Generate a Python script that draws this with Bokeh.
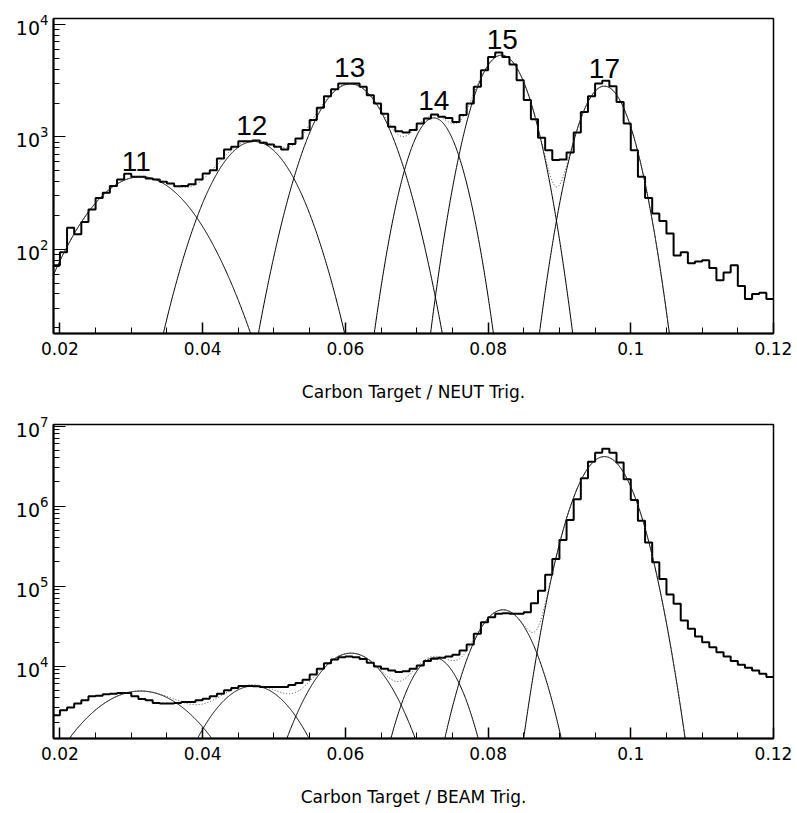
import numpy as np
from bokeh.plotting import figure
from bokeh.layouts import column
from bokeh.models import Range1d, FixedTicker
from bokeh.embed import file_html
from bokeh.resources import INLINE
from bokeh.core.properties import value

# ---------------- data ----------------
bin_start = 0.019
bin_width = 0.001

# NEUT trigger histogram, bins of 0.001 starting at 0.019
neut_counts = [72, 94, 155, 136, 175, 226, 286, 318, 366, 418,
               469, 441, 441, 427, 418, 398, 385, 364, 366, 378,
               418, 472, 505, 643, 773, 815, 916, 916, 929, 885,
               855, 815, 773, 865, 968, 1148, 1409, 1811, 2300, 2656,
               2985, 2985, 2985, 2786, 2350, 1982, 1603, 1228, 1124, 1093,
               1148, 1315, 1459, 1582, 1507, 1475, 1358, 1561, 1982, 2786,
               3917, 5148, 5640, 5148, 4406, 3193, 2124, 1436, 980, 762,
               621, 630, 727, 1093, 1667, 2300, 2985, 3150, 2825, 2046,
               1315, 762, 441, 286, 208, 178, 138, 88, 94, 75,
               78, 80, 68, 53, 62, 72, 47, 36, 40, 41, 36]

# BEAM trigger histogram, same binning
beam_counts = [2427, 2805, 3030, 3400, 3736, 4191, 4274, 4440, 4525, 4616,
               4616, 4191, 3883, 3736, 3459, 3400, 3400, 3459, 3556, 3556,
               3736, 3918, 4191, 4525, 4978, 5321, 5636, 5636, 5585, 5480,
               5480, 5480, 5480, 5800, 6140, 6762, 7876, 9270, 10890, 12110,
               12940, 13200, 12940, 12250, 11020, 9910, 9270, 8830, 8410, 8600,
               9270, 10200, 11540, 12360, 12710, 13200, 13860, 15700, 18640, 25330,
               35340, 40790, 44960, 45740, 44960, 44960, 47080, 60930, 87700, 138900,
               217900, 375700, 668000, 1220000, 2230000, 3590000, 4650000, 5210000, 4650000, 3490000,
               2170000, 1190000, 655000, 351400, 197800, 122700, 78300, 59950, 37150, 29240,
               23440, 19900, 17250, 14940, 13200, 11540, 10400, 9550, 8830, 8040, 7300]

# Gaussian fit components (amplitude, mean, sigma)
neut_amp = [441, 910, 2960, 1475, 5330, 2825]
neut_mean = [0.0313, 0.0472, 0.0607, 0.0724, 0.0819, 0.0963]
neut_sigma = [0.00609, 0.00453, 0.00403, 0.00281, 0.00295, 0.00286]

beam_amp = [4875, 5640, 14500, 12700, 50500, 4150000]
beam_mean = [0.0313, 0.0471, 0.0608, 0.0725, 0.0821, 0.0963]
beam_sigma = [0.00605, 0.0045, 0.00406, 0.00284, 0.0030, 0.00281]

peak_labels = ["11", "12", "13", "14", "15", "17"]
peak_label_x = [0.0307, 0.0469, 0.0606, 0.0724, 0.0820, 0.0963]
peak_label_y = [495, 1020, 3350, 1730, 5995, 3313]

x_ticks = [0.02, 0.04, 0.06, 0.08, 0.1, 0.12]
x_tick_labels = ["0.02", "0.04", "0.06", "0.08", "0.1", "0.12"]
x_minor_ticks = [0.025, 0.03, 0.035, 0.045, 0.05, 0.055, 0.065, 0.07, 0.075,
                 0.085, 0.09, 0.095, 0.105, 0.11, 0.115]

neut_y_ticks = [100, 1000, 10000]
beam_y_ticks = [1e4, 1e5, 1e6, 1e7]

neut_xlabel = "Carbon Target / NEUT Trig."
beam_xlabel = "Carbon Target / BEAM Trig."

X_MIN, X_MAX = 0.0191, 0.12
NEUT_Y = (17.8, 11300)
BEAM_Y = (1245, 1.045e7)

FONT = "DejaVu Sans"


def log_minors(major):
    out = []
    for m in major:
        for k in range(2, 10):
            out.append(m / 10 * k)
    return out


def make_panel(counts, amps, means, sigmas, yr, yticks, xlabel, height, bborder):
    p = figure(width=797, height=height,
               x_range=Range1d(X_MIN, X_MAX), y_range=Range1d(*yr),
               y_axis_type="log", output_backend="svg", toolbar_location=None,
               min_border_left=53, min_border_right=24, min_border_top=18,
               min_border_bottom=bborder)
    p.xgrid.visible = False
    p.ygrid.visible = False
    p.outline_line_color = "black"
    p.outline_line_width = 1.5
    p.background_fill_color = "white"
    p.border_fill_color = "white"

    # x axis
    xa = p.xaxis[0]
    xa.ticker = FixedTicker(ticks=x_ticks, minor_ticks=x_minor_ticks)
    xa.major_label_overrides = {t: l for t, l in zip(x_ticks, x_tick_labels)}
    xa.major_tick_in = 11
    xa.major_tick_out = 0
    xa.minor_tick_in = 6
    xa.minor_tick_out = 0
    xa.major_tick_line_width = 1.5
    xa.axis_line_width = 2
    xa.major_label_text_font = FONT
    xa.major_label_text_font_size = "17px"
    xa.major_label_text_color = "black"
    xa.major_label_standoff = 8
    xa.axis_label = xlabel
    xa.axis_label_text_font = FONT
    xa.axis_label_text_font_size = "17px"
    xa.axis_label_text_font_style = "normal"
    xa.axis_label_text_color = "black"
    xa.axis_label_standoff = 24

    # y axis
    ya = p.yaxis[0]
    ya.ticker = FixedTicker(ticks=yticks, minor_ticks=log_minors(yticks))
    ya.major_tick_in = 12
    ya.major_tick_out = 0
    ya.minor_tick_in = 6
    ya.minor_tick_out = 0
    ya.axis_line_width = 2
    ya.major_label_text_font = FONT
    ya.major_label_text_font_size = "19px"
    ya.major_label_text_color = "black"
    ya.major_label_standoff = 5

    # histogram
    edges = [bin_start + bin_width * i for i in range(len(counts) + 1)]
    p.step(edges, list(counts) + [counts[-1]], mode="after",
           line_color="black", line_width=2)

    # gaussian components and their sum
    xg = np.linspace(X_MIN, X_MAX, 1500)
    total = np.zeros_like(xg)
    for a, m, s in zip(amps, means, sigmas):
        g = a * np.exp(-(xg - m) ** 2 / (2 * s * s))
        total += g
        mask = g > yr[0] * 0.3
        p.line(xg[mask], g[mask], line_color="black", line_width=1)
    mask = total > yr[0] * 0.3
    p.line(xg[mask], total[mask], line_color="#444444", line_width=1,
           line_dash="1 2")
    return p


p1 = make_panel(neut_counts, neut_amp, neut_mean, neut_sigma, NEUT_Y,
                neut_y_ticks, neut_xlabel, 406, 73)
p1.text(x=peak_label_x, y=peak_label_y, text=peak_labels,
        text_font=value("Liberation Sans"), text_font_size="28px",
        text_align="center", text_baseline="alphabetic", text_color="black",
        y_offset=-10)

p2 = make_panel(beam_counts, beam_amp, beam_mean, beam_sigma, BEAM_Y,
                beam_y_ticks, beam_xlabel, 407, 75)

layout = column(p1, p2, spacing=0)
open("out.html", "w").write(file_html(layout, INLINE))
